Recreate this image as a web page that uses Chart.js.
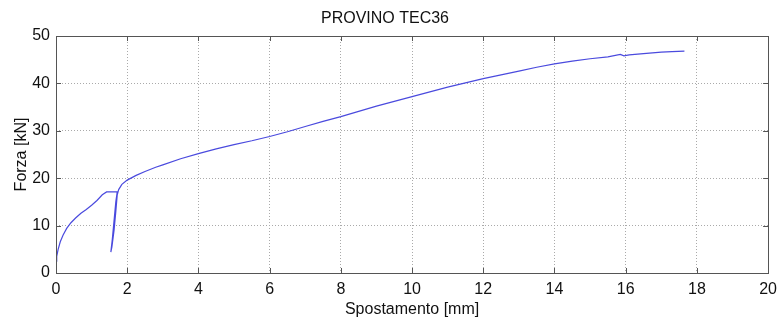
<!DOCTYPE html>
<html>
<head>
<meta charset="utf-8">
<script src="https://cdn.jsdelivr.net/npm/chart.js@4"></script>
<style>
    html, body { margin: 0; padding: 0; background: #fff; }
    #wrap { width: 784px; height: 323px; }
</style>
</head>
<body>
<div id="wrap"><canvas id="chart" width="784" height="323"></canvas></div>
<script>
    // Curve (displacement in mm, force in kN).
    var spostamento = [0, 0.02, 0.06, 0.12, 0.2, 0.3, 0.42, 0.55, 0.7, 0.85, 1.0, 1.15, 1.3, 1.42,
        1.5, 1.6, 1.72, 1.68, 1.63, 1.58, 1.54, 1.57, 1.63, 1.68, 1.72, 1.76, 1.85, 2.0,
        2.25, 2.5, 2.8, 3.0, 3.5, 4.0, 4.5, 5.0, 5.5, 6.0, 6.5, 7.0, 7.5, 8.0, 9.0, 10.0, 11.0,
        12.0, 12.5, 13.0, 13.5, 14.0, 14.5, 15.0, 15.5, 15.85, 15.95, 16.1, 16.5, 17.0, 17.3, 17.65];
    var forza = [2.5, 3.5, 5.0, 6.6, 8.0, 9.4, 10.6, 11.6, 12.6, 13.4, 14.3, 15.3, 16.5, 17.1,
        17.1, 17.1, 17.1, 15.0, 11.0, 7.0, 4.4, 5.5, 9.0, 13.0, 16.5, 17.6, 18.7, 19.6,
        20.6, 21.4, 22.3, 22.8, 24.1, 25.2, 26.2, 27.1, 27.9, 28.8, 29.8, 30.9, 32.0, 33.0, 35.2, 37.2,
        39.2, 41.0, 41.8, 42.6, 43.4, 44.1, 44.7, 45.2, 45.6, 46.1, 45.8, 46.0, 46.3, 46.6, 46.7, 46.8];
    var xTicks = [0, 2, 4, 6, 8, 10, 12, 14, 16, 18, 20];
    var yTicks = [0, 10, 20, 30, 40, 50];

    var points = [];
    for (let i = 0; i < spostamento.length; i++) {
        points.push({x: spostamento[i], y: forza[i]});
    }

    var font = 'Liberation Sans, Arial, sans-serif';

    // Box round the axes and inward tick marks, like the original plot.
    var boxPlugin = {
        id: 'box',
        afterDraw(chart) {
            let ctx = chart.ctx;
            let a = chart.chartArea;
            let sx = chart.scales.x, sy = chart.scales.y;
            ctx.save();
            ctx.strokeStyle = '#555';
            ctx.lineWidth = 1;
            ctx.strokeRect(Math.round(a.left) + 0.5, Math.round(a.top) + 0.5,
                Math.round(a.right - a.left), Math.round(a.bottom - a.top));
            ctx.beginPath();
            xTicks.forEach(v => {
                let px = Math.round(sx.getPixelForValue(v)) + 0.5;
                ctx.moveTo(px, a.bottom); ctx.lineTo(px, a.bottom - 5);
                ctx.moveTo(px, a.top); ctx.lineTo(px, a.top + 5);
            });
            yTicks.forEach(v => {
                let py = Math.round(sy.getPixelForValue(v)) + 0.5;
                ctx.moveTo(a.left, py); ctx.lineTo(a.left + 5, py);
                ctx.moveTo(a.right, py); ctx.lineTo(a.right - 5, py);
            });
            ctx.stroke();
            ctx.restore();
        }
    };

    var chart = new Chart(document.getElementById('chart'), {
        type: 'scatter',
        data: {
            datasets: [{
                label: 'Forza',
                data: points,
                showLine: true,
                borderColor: '#4a4ade',
                borderWidth: 1.2,
                pointRadius: 0,
                tension: 0
            }]
        },
        options: {
            responsive: false,
            animation: false,
            layout: {padding: {top: 0, right: 14, bottom: 0, left: 0}},
            plugins: {
                legend: {display: false},
                tooltip: {enabled: false},
                title: {
                    display: true,
                    text: 'PROVINO TEC36',
                    color: '#111',
                    font: {family: font, size: 16, weight: 'normal'},
                    padding: {top: 9, bottom: 7.8}
                }
            },
            scales: {
                x: {
                    type: 'linear',
                    min: 0, max: 20,
                    afterBuildTicks: s => { s.ticks = xTicks.map(v => ({value: v})); },
                    afterFit: s => { s.height = 50; },
                    ticks: {color: '#111', padding: 7, font: {family: font, size: 16}},
                    grid: {color: '#aaa', drawTicks: false, lineWidth: 1},
                    border: {display: false, dash: [1, 2]},
                    title: {
                        display: true, text: 'Spostamento [mm]', color: '#111',
                        font: {family: font, size: 16}, padding: {top: 0, bottom: 4}
                    }
                },
                y: {
                    type: 'linear',
                    min: 0, max: 50,
                    afterBuildTicks: s => { s.ticks = yTicks.map(v => ({value: v})); },
                    afterFit: s => { s.width = 56; },
                    ticks: {color: '#111', padding: 6, font: {family: font, size: 16}},
                    grid: {color: '#aaa', drawTicks: false, lineWidth: 1},
                    border: {display: false, dash: [1, 2]},
                    title: {
                        display: true, text: 'Forza [kN]', color: '#111',
                        font: {family: font, size: 16}, padding: {top: 12, bottom: 0}
                    }
                }
            }
        },
        plugins: [boxPlugin]
    });
</script>
</body>
</html>
